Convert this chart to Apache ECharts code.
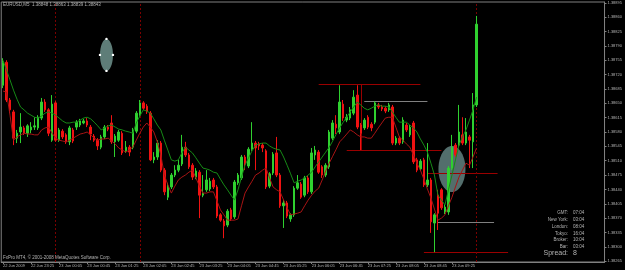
<!DOCTYPE html>
<html><head><meta charset="utf-8">
<script src="https://cdn.jsdelivr.net/npm/echarts@6/dist/echarts.min.js"></script>
<style>html,body{margin:0;padding:0;background:#000;}#c{width:625px;height:270px;}</style>
</head><body><div id="c"></div>
<script>
// ---- data (EURUSD, M5, 22-23 Jun 2009) ----
const timeLabels = ["22 Jun 2009","22 Jun 23:25","23 Jun 00:05","23 Jun 00:45","23 Jun 01:25","23 Jun 02:05","23 Jun 02:45","23 Jun 03:25","23 Jun 04:05","23 Jun 04:45","23 Jun 05:25","23 Jun 06:05","23 Jun 06:45","23 Jun 07:25","23 Jun 08:05","23 Jun 08:45","23 Jun 09:25"];
const openP = [1.38694,1.38750,1.38658,1.38629,1.38565,1.38580,1.38590,1.38577,1.38585,1.38592,
1.38590,1.38614,1.38653,1.38634,1.38560,1.38651,1.38560,1.38582,1.38573,1.38556,
1.38585,1.38592,1.38597,1.38602,1.38607,1.38592,1.38570,1.38560,1.38543,1.38568,
1.38592,1.38602,1.38556,1.38560,1.38577,1.38534,1.38543,1.38543,1.38582,1.38621,
1.38651,1.38643,1.38626,1.38512,1.38519,1.38553,1.38487,1.38421,1.38446,1.38475,
1.38487,1.38502,1.38543,1.38524,1.38499,1.38470,1.38482,1.38426,1.38439,1.38441,
1.38463,1.38446,1.38378,1.38363,1.38353,1.38390,1.38373,1.38456,1.38468,1.38519,
1.38497,1.38538,1.38553,1.38551,1.38548,1.38534,1.38448,1.38480,1.38529,1.38475,
1.38400,1.38407,1.38368,1.38378,1.38443,1.38453,1.38426,1.38468,1.38434,1.38524,
1.38531,1.38495,1.38475,1.38495,1.38565,1.38599,1.38580,1.38648,1.38609,1.38614,
1.38626,1.38670,1.38597,1.38590,1.38616,1.38599,1.38604,1.38646,1.38641,1.38638,
1.38634,1.38641,1.38553,1.38565,1.38556,1.38597,1.38573,1.38602,1.38512,1.38490,
1.38512,1.38451,1.38463,1.38358,1.38426,1.38439,1.38385,1.38385,1.38492,1.38548,
1.38548,1.38573,1.38553,1.38568,1.38556,1.38646];
const closeP = [1.38750,1.38658,1.38634,1.38565,1.38577,1.38592,1.38577,1.38595,1.38592,1.38595,
1.38616,1.38653,1.38634,1.38577,1.38648,1.38560,1.38585,1.38568,1.38556,1.38590,
1.38558,1.38604,1.38607,1.38607,1.38597,1.38575,1.38560,1.38546,1.38568,1.38592,
1.38587,1.38556,1.38570,1.38580,1.38529,1.38543,1.38531,1.38585,1.38626,1.38651,
1.38638,1.38629,1.38512,1.38519,1.38553,1.38487,1.38434,1.38448,1.38475,1.38487,
1.38499,1.38543,1.38524,1.38495,1.38470,1.38485,1.38426,1.38431,1.38463,1.38460,
1.38446,1.38375,1.38365,1.38351,1.38387,1.38368,1.38458,1.38475,1.38519,1.38502,
1.38538,1.38553,1.38541,1.38546,1.38541,1.38446,1.38478,1.38526,1.38475,1.38400,
1.38407,1.38375,1.38378,1.38443,1.38456,1.38421,1.38468,1.38434,1.38529,1.38536,
1.38482,1.38475,1.38499,1.38580,1.38602,1.38590,1.38653,1.38614,1.38616,1.38634,
1.38665,1.38592,1.38577,1.38609,1.38592,1.38590,1.38651,1.38641,1.38636,1.38631,
1.38646,1.38553,1.38565,1.38553,1.38609,1.38585,1.38592,1.38507,1.38487,1.38509,
1.38451,1.38463,1.38361,1.38378,1.38382,1.38395,1.38397,1.38492,1.38543,1.38524,
1.38580,1.38553,1.38580,1.38560,1.38646,1.38843];
const highP = [1.38760,1.38755,1.38663,1.38634,1.38585,1.38626,1.38595,1.38599,1.38604,1.38616,
1.38621,1.38663,1.38660,1.38638,1.38670,1.38655,1.38590,1.38587,1.38577,1.38595,
1.38590,1.38609,1.38612,1.38612,1.38614,1.38597,1.38575,1.38565,1.38573,1.38597,
1.38597,1.38621,1.38575,1.38585,1.38582,1.38558,1.38548,1.38590,1.38631,1.38658,
1.38655,1.38648,1.38631,1.38531,1.38560,1.38558,1.38492,1.38456,1.38480,1.38499,
1.38512,1.38573,1.38556,1.38529,1.38504,1.38492,1.38487,1.38475,1.38487,1.38468,
1.38468,1.38451,1.38382,1.38368,1.38392,1.38395,1.38463,1.38480,1.38524,1.38524,
1.38543,1.38604,1.38558,1.38556,1.38553,1.38538,1.38482,1.38531,1.38568,1.38480,
1.38414,1.38412,1.38382,1.38448,1.38475,1.38458,1.38473,1.38473,1.38541,1.38546,
1.38536,1.38499,1.38504,1.38585,1.38609,1.38621,1.38694,1.38658,1.38624,1.38641,
1.38682,1.38694,1.38602,1.38614,1.38621,1.38604,1.38655,1.38651,1.38646,1.38643,
1.38651,1.38646,1.38570,1.38570,1.38616,1.38602,1.38597,1.38607,1.38517,1.38514,
1.38517,1.38553,1.38468,1.38382,1.38439,1.38443,1.38402,1.38497,1.38573,1.38553,
1.38646,1.38616,1.38614,1.38573,1.38675,1.38863];
const lowP = [1.38687,1.38653,1.38626,1.38548,1.38553,1.38553,1.38573,1.38568,1.38577,1.38585,
1.38585,1.38609,1.38629,1.38570,1.38556,1.38556,1.38556,1.38563,1.38551,1.38548,
1.38553,1.38585,1.38592,1.38599,1.38592,1.38560,1.38556,1.38536,1.38538,1.38563,
1.38582,1.38551,1.38519,1.38556,1.38524,1.38529,1.38521,1.38538,1.38577,1.38616,
1.38634,1.38624,1.38509,1.38504,1.38512,1.38482,1.38426,1.38414,1.38441,1.38470,
1.38482,1.38497,1.38519,1.38490,1.38463,1.38465,1.38370,1.38421,1.38434,1.38436,
1.38441,1.38370,1.38361,1.38321,1.38348,1.38363,1.38368,1.38451,1.38463,1.38487,
1.38492,1.38534,1.38487,1.38536,1.38531,1.38441,1.38443,1.38475,1.38470,1.38395,
1.38346,1.38370,1.38361,1.38373,1.38439,1.38417,1.38421,1.38429,1.38429,1.38512,
1.38478,1.38468,1.38470,1.38490,1.38560,1.38575,1.38575,1.38607,1.38604,1.38609,
1.38621,1.38587,1.38536,1.38585,1.38587,1.38582,1.38599,1.38636,1.38631,1.38626,
1.38629,1.38548,1.38548,1.38548,1.38551,1.38580,1.38568,1.38502,1.38482,1.38485,
1.38446,1.38446,1.38334,1.38287,1.38341,1.38390,1.38380,1.38378,1.38487,1.38519,
1.38543,1.38548,1.38548,1.38492,1.38492,1.38641];
const maUpper = [1.38755,1.38731,1.38707,1.38682,1.38660,1.38641,1.38634,1.38626,1.38621,1.38616,
1.38614,1.38619,1.38626,1.38629,1.38626,1.38621,1.38614,1.38607,1.38602,1.38602,
1.38604,1.38604,1.38609,1.38614,1.38616,1.38612,1.38604,1.38595,1.38585,1.38590,
1.38595,1.38597,1.38592,1.38587,1.38585,1.38582,1.38580,1.38577,1.38602,1.38619,
1.38634,1.38631,1.38626,1.38612,1.38597,1.38585,1.38560,1.38536,1.38512,1.38509,
1.38512,1.38529,1.38543,1.38536,1.38529,1.38517,1.38504,1.38492,1.38490,1.38487,
1.38482,1.38480,1.38465,1.38451,1.38439,1.38426,1.38414,1.38439,1.38470,1.38499,
1.38517,1.38534,1.38548,1.38551,1.38553,1.38553,1.38546,1.38541,1.38538,1.38536,
1.38519,1.38499,1.38478,1.38456,1.38460,1.38463,1.38468,1.38475,1.38482,1.38495,
1.38507,1.38519,1.38531,1.38543,1.38558,1.38575,1.38590,1.38604,1.38616,1.38629,
1.38641,1.38653,1.38646,1.38638,1.38634,1.38638,1.38643,1.38646,1.38643,1.38643,
1.38641,1.38629,1.38616,1.38604,1.38604,1.38604,1.38597,1.38590,1.38580,1.38563,
1.38548,1.38531,1.38504,1.38475,1.38426,1.38414,1.38402,1.38439,1.38475,1.38512,
1.38548,1.38568,1.38585,1.38609,1.38634,1.38665];
const maLower = [1.38680,1.38677,1.38621,1.38560,1.38568,1.38573,1.38577,1.38575,1.38575,1.38573,
1.38573,1.38585,1.38590,1.38592,1.38577,1.38565,1.38560,1.38558,1.38556,1.38560,
1.38565,1.38570,1.38575,1.38577,1.38580,1.38573,1.38565,1.38560,1.38563,1.38563,
1.38565,1.38558,1.38551,1.38541,1.38536,1.38531,1.38536,1.38543,1.38560,1.38577,
1.38592,1.38602,1.38592,1.38580,1.38556,1.38524,1.38475,1.38451,1.38431,1.38448,
1.38463,1.38470,1.38475,1.38482,1.38487,1.38468,1.38448,1.38431,1.38431,1.38434,
1.38434,1.38412,1.38390,1.38378,1.38365,1.38365,1.38365,1.38368,1.38400,1.38431,
1.38446,1.38460,1.38475,1.38480,1.38487,1.38492,1.38468,1.38446,1.38439,1.38434,
1.38414,1.38395,1.38378,1.38380,1.38382,1.38385,1.38400,1.38414,1.38426,1.38436,
1.38443,1.38463,1.38485,1.38504,1.38521,1.38538,1.38556,1.38565,1.38575,1.38585,
1.38580,1.38573,1.38568,1.38568,1.38565,1.38565,1.38577,1.38590,1.38602,1.38614,
1.38616,1.38616,1.38592,1.38568,1.38560,1.38551,1.38543,1.38524,1.38504,1.38487,
1.38465,1.38441,1.38419,1.38392,1.38365,1.38370,1.38378,1.38400,1.38421,1.38446,
1.38470,1.38487,1.38504,1.38499,1.38519,1.38541];
const yTickLabels = [1.38265,1.38300,1.38335,1.38370,1.38405,1.38440,1.38475,1.38510,1.38545,1.38580,1.38615,1.38650,1.38685,1.38720,1.38755,1.38790,1.38825,1.38860,1.38895];
const currentPrice = 1.38843;
const titleText = "EURUSD,M5  1.38848 1.38863 1.38839 1.38843";
// drawn objects: horizontal levels (bar from, bar to, price)
const levelFrom  = [90, 103, 98, 121, 124, 120];
const levelTo    = [119, 121, 125, 141, 140, 144];
const levelPrice = [1.38697, 1.38655, 1.38536, 1.38480, 1.38361, 1.38287];
const levelKind  = ['red','gray','red','red','gray','red'];
const separatorBars = [15, 39, 135];
// drawn ellipses: centre (bar, price)
const ellipseBar   = [29.5, 128];
const ellipsePrice = [1.38768, 1.38490];
const infoLabels = ['GMT:', 'New York:', 'London:', 'Tokyo:', 'Broker:', 'Bar:'];
const infoValues = ['07:04', '03:04', '08:04', '16:04', '10:04', '03:04'];
const spreadValue = '8';

// ---- chart ----
const NCAT = 172;
const cats = Array.from({length: NCAT}, (_, i) => String(i));
const candles = openP.map((o, i) => [o, closeP[i], lowP[i], highP[i]]);
const FONT = 'Liberation Sans';
const TXT = '#b4b4b4';
const DARKRED = '#9a0000';
const GRAY = '#808080';

const mlData = [
  { yAxis: currentPrice, lineStyle: { color: '#6c6c6c', width: 1, type: 'solid' },
    label: { show: true, position: 'end', formatter: currentPrice.toFixed(5), color: '#000',
      backgroundColor: '#c8c8c8', fontSize: 4, fontFamily: FONT, padding: [1, 1, 0, 1], distance: 2 } }
];
levelPrice.forEach((p, k) => {
  mlData.push([
    { coord: [levelFrom[k], p], lineStyle: { color: levelKind[k] === 'red' ? DARKRED : GRAY, width: 1, type: 'solid' } },
    { coord: [levelTo[k], p] }
  ]);
});
separatorBars.forEach(b => {
  mlData.push({ xAxis: b, lineStyle: { color: '#7a0000', width: 1, type: [2, 2] } });
});
mlData.push([{ coord: [102, levelPrice[0]], lineStyle: { color: DARKRED, width: 1, type: 'solid' } }, { coord: [102, levelPrice[2]] }]);

const ellipseSize = [[6.5, 16, '#5e7d78', 1, true], [13.5, 23, '#6f9390', 0.75, false]];

const chart = echarts.init(document.getElementById('c'), null, { renderer: 'canvas' });
chart.setOption({
  backgroundColor: '#000000',
  animation: false,
  grid: { left: 1, right: 17, top: 2, bottom: 8, show: true, borderColor: GRAY, borderWidth: 1 },
  xAxis: {
    type: 'category', data: cats, boundaryGap: true,
    axisLine: { show: true, lineStyle: { color: GRAY, width: 1 } },
    axisTick: { show: true, alignWithLabel: true, length: 2, lineStyle: { color: GRAY },
      interval: (i) => i % 8 === 0 && i / 8 < timeLabels.length },
    axisLabel: {
      interval: (i) => i % 8 === 0 && i / 8 < timeLabels.length,
      formatter: (v, i) => timeLabels[i / 8] || '',
      align: 'left', fontSize: 4, fontFamily: FONT, color: TXT, margin: 2
    },
    splitLine: { show: false }
  },
  yAxis: {
    type: 'value', position: 'right', min: 1.38263, max: 1.38897, scale: true,
    axisLine: { show: true, lineStyle: { color: GRAY, width: 1 } },
    axisTick: { show: true, length: 2, customValues: yTickLabels, lineStyle: { color: GRAY } },
    axisLabel: { customValues: yTickLabels, formatter: (v) => v.toFixed(5), fontSize: 4,
      fontFamily: FONT, color: TXT, margin: 3 },
    splitLine: { show: false }
  },
  series: [
    {
      type: 'custom', z: 0, silent: true, clip: false,
      data: ellipseBar.map((b, k) => [b, ellipsePrice[k], k]),
      renderItem: (params, api) => {
        const k = api.value(2);
        const b = ellipseBar[k];
        const p0 = api.coord([Math.floor(b), ellipsePrice[k]]);
        const p1 = api.coord([Math.ceil(b), ellipsePrice[k]]);
        const cx = p0[0] + (p1[0] - p0[0]) * (b - Math.floor(b));
        const cy = p0[1];
        const s = ellipseSize[k];
        const children = [{ type: 'ellipse', z2: 0, shape: { cx: cx, cy: cy, rx: s[0], ry: s[1] }, style: { fill: s[2], opacity: s[3] } }];
        if (s[4]) {
          [[0, -s[1]], [0, s[1]], [-s[0], 0], [s[0], 0]].forEach(d => {
            children.push({ type: 'circle', z2: 1, shape: { cx: cx + d[0], cy: cy + d[1], r: 1.2 }, style: { fill: '#ffffff' } });
          });
        }
        return { type: 'group', children: children };
      }
    },
    {
      type: 'line', data: openP.map(() => null), z: 1, symbol: 'none', silent: true,
      markLine: { z: 1, silent: true, symbol: ['none', 'none'], animation: false, label: { show: false }, data: mlData }
    },
    {
      type: 'candlestick', data: candles, barWidth: 2, z: 3,
      itemStyle: { color: '#2fd02f', color0: '#f01212', borderColor: '#2fd02f', borderColor0: '#f01212', borderWidth: 1 }
    },
    { type: 'line', data: maUpper, symbol: 'none', z: 4, lineStyle: { color: '#168a16', width: 1 } },
    { type: 'line', data: maLower, symbol: 'none', z: 4, lineStyle: { color: '#a81414', width: 1 } }
  ]
});

const g = [];
g.push({ type: 'text', z: 10, x: 3, y: 5, style: { text: titleText, fill: TXT, font: '4.5px ' + FONT, textVerticalAlign: 'middle' } });
g.push({ type: 'text', z: 10, x: 3, y: 258, style: { text: 'FxPro MT4, \u00a9 2001-2008 MetaQuotes Software Corp.', fill: TXT, font: '4.5px ' + FONT, textVerticalAlign: 'middle' } });
infoLabels.forEach((t, k) => {
  const y = 213 + k * 6.8;
  g.push({ type: 'text', z: 10, x: 568, y: y, style: { text: t, fill: TXT, font: '4.5px ' + FONT, textAlign: 'right', textVerticalAlign: 'middle' } });
  g.push({ type: 'text', z: 10, x: 573, y: y, style: { text: infoValues[k], fill: TXT, font: '4.5px ' + FONT, textAlign: 'left', textVerticalAlign: 'middle' } });
});
g.push({ type: 'text', z: 10, x: 568, y: 253, style: { text: 'Spread:', fill: TXT, font: '7px ' + FONT, textAlign: 'right', textVerticalAlign: 'middle' } });
g.push({ type: 'text', z: 10, x: 573, y: 253, style: { text: spreadValue, fill: TXT, font: '7px ' + FONT, textAlign: 'left', textVerticalAlign: 'middle' } });
chart.setOption({ graphic: { elements: g } });
</script>
</body></html>
